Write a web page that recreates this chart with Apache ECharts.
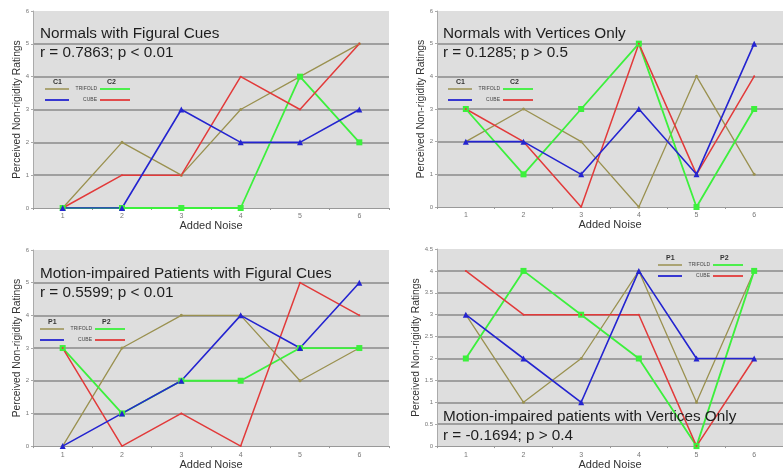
<!DOCTYPE html>
<html><head><meta charset="utf-8">
<script src="https://cdn.jsdelivr.net/npm/echarts@6/dist/echarts.min.js"></script>
<style>html,body{margin:0;padding:0;background:#fff}#c{width:783px;height:471px}</style>
</head><body><div id="c"></div>
<script>
const categories = ['1','2','3','4','5','6'];

// Panel 1: Normals with Figural Cues
const p1TrifoldC1 = [0, 2, 1, 3, 4, 5];
const p1CubeC1    = [0, 0, 3, 2, 2, 3];
const p1TrifoldC2 = [0, 0, 0, 0, 4, 2];
const p1CubeC2    = [0, 1, 1, 4, 3, 5];

// Panel 2: Normals with Vertices Only
const p2TrifoldC1 = [2, 3, 2, 0, 4, 1];
const p2CubeC1    = [2, 2, 1, 3, 1, 5];
const p2TrifoldC2 = [3, 1, 3, 5, 0, 3];
const p2CubeC2    = [3, 2, 0, 5, 1, 4];

// Panel 3: Motion-impaired Patients with Figural Cues
const p3TrifoldP1 = [0, 3, 4, 4, 2, 3];
const p3CubeP1    = [0, 1, 2, 4, 3, 5];
const p3TrifoldP2 = [3, 1, 2, 2, 3, 3];
const p3CubeP2    = [3, 0, 1, 0, 5, 4];

// Panel 4: Motion-impaired patients with Vertices Only
const p4TrifoldP1 = [3, 1, 2, 4, 1, 4];
const p4CubeP1    = [3, 2, 1, 4, 2, 2];
const p4TrifoldP2 = [2, 4, 3, 2, 0, 4];
const p4CubeP2    = [4, 3, 3, 3, 0, 2];

const titles = [
  ['Normals with Figural Cues', 'r = 0.7863; p < 0.01'],
  ['Normals with Vertices Only', 'r = 0.1285; p > 0.5'],
  ['Motion-impaired Patients with Figural Cues', 'r = 0.5599; p < 0.01'],
  ['Motion-impaired patients with Vertices Only', 'r = -0.1694; p > 0.4']
];
const yMax = [6, 6, 6, 4.5];
const yInterval = [1, 1, 1, 0.5];

const FONT = '"Liberation Sans", Arial, sans-serif';
const C_OLIVE = '#9a9150', C_BLUE = '#2424d0', C_GREEN = '#3cf03c', C_RED = '#e23a3a';

const grids = [
  {left: 33, top: 11, width: 356, height: 197},
  {left: 437, top: 11, width: 356, height: 196},
  {left: 33, top: 250, width: 356, height: 198},
  {left: 437, top: 249, width: 349, height: 198}
];
const nameGaps = [2, 2, 10, 10];

const xAxes = grids.map((g, i) => ({
  type: 'category', gridIndex: i, data: categories, boundaryGap: true,
  name: 'Added Noise', nameLocation: 'middle', nameGap: nameGaps[i],
  nameTextStyle: {fontFamily: FONT, fontSize: 11, color: '#333'},
  axisLine: {lineStyle: {color: '#999', width: 1}},
  axisTick: {show: true, length: 2, lineStyle: {color: '#999'}},
  axisLabel: {fontFamily: FONT, fontSize: 7, color: '#777', margin: 5}
}));
const yAxes = grids.map((g, i) => ({
  type: 'value', gridIndex: i, min: 0, max: yMax[i], interval: yInterval[i],
  name: 'Perceived Non-rigidity Ratings', nameLocation: 'middle', nameGap: 7,
  nameTextStyle: {fontFamily: FONT, fontSize: 10.3, color: '#333'},
  axisLine: {show: true, lineStyle: {color: '#aaa', width: 1}},
  axisTick: {show: true, length: 2, lineStyle: {color: '#aaa'}},
  axisLabel: {fontFamily: FONT, fontSize: 6, color: '#777', margin: 4},
  splitLine: {show: true, showMinLine: false, showMaxLine: false, lineStyle: {color: '#8a8a8a', width: 1.7}}
}));

function mk(data, idx, color, symbol, size, width) {
  return {type: 'line', xAxisIndex: idx, yAxisIndex: idx, data: data,
    symbol: symbol, symbolSize: size, showSymbol: true,
    lineStyle: {color: color, width: width}, itemStyle: {color: color},
    animation: false, z: 3};
}
const panelData = [
  [p1TrifoldC1, p1CubeC1, p1TrifoldC2, p1CubeC2],
  [p2TrifoldC1, p2CubeC1, p2TrifoldC2, p2CubeC2],
  [p3TrifoldP1, p3CubeP1, p3TrifoldP2, p3CubeP2],
  [p4TrifoldP1, p4CubeP1, p4TrifoldP2, p4CubeP2]
];
const series = [];
panelData.forEach((d, i) => {
  series.push(mk(d[0], i, C_OLIVE, 'circle', 3, 1.3));
  series.push(mk(d[2], i, C_GREEN, 'rect', 6, 1.8));
  series.push(mk(d[3], i, C_RED, 'circle', 2, 1.5));
  series.push(mk(d[1], i, C_BLUE, 'triangle', 6, 1.6));
});

// annotations
const graphic = [];
const titlePos = [[40, 26], [443, 26], [40, 266], [443, 409]];
titles.forEach((t, i) => {
  graphic.push({type: 'text', left: titlePos[i][0], top: titlePos[i][1], z: 10,
    style: {text: t[0], font: '15.3px ' + FONT, fill: '#1e1e1e'}});
  graphic.push({type: 'text', left: titlePos[i][0], top: titlePos[i][1] + 19.5, z: 10,
    style: {text: t[1], font: '15.3px ' + FONT, fill: '#1e1e1e'}});
});
// legends: [x0, yHeader, labels]
const legends = [
  [45, 79, 'C1', 'C2'], [448, 79, 'C1', 'C2'], [40, 319, 'P1', 'P2'], [658, 255, 'P1', 'P2']
];
legends.forEach(l => {
  const x = l[0], y = l[1];
  const row1 = y + 10, row2 = y + 21;
  graphic.push({type: 'text', x: x + 8, y: y, z: 10, style: {text: l[2], font: 'bold 7px ' + FONT, fill: '#333'}});
  graphic.push({type: 'text', x: x + 62, y: y, z: 10, style: {text: l[3], font: 'bold 7px ' + FONT, fill: '#333'}});
  graphic.push({type: 'line', z: 10, shape: {x1: x, y1: row1, x2: x + 24, y2: row1}, style: {stroke: C_OLIVE, lineWidth: 1.5}});
  graphic.push({type: 'line', z: 10, shape: {x1: x, y1: row2, x2: x + 24, y2: row2}, style: {stroke: C_BLUE, lineWidth: 1.8}});
  graphic.push({type: 'text', x: x + 52, y: row1, z: 10, style: {text: 'TRIFOLD', font: '5px ' + FONT, fill: '#444', textAlign: 'right', textVerticalAlign: 'middle'}});
  graphic.push({type: 'text', x: x + 52, y: row2, z: 10, style: {text: 'CUBE', font: '5px ' + FONT, fill: '#444', textAlign: 'right', textVerticalAlign: 'middle'}});
  graphic.push({type: 'line', z: 10, shape: {x1: x + 55, y1: row1, x2: x + 85, y2: row1}, style: {stroke: C_GREEN, lineWidth: 1.8}});
  graphic.push({type: 'line', z: 10, shape: {x1: x + 55, y1: row2, x2: x + 85, y2: row2}, style: {stroke: C_RED, lineWidth: 1.8}});
});

const chart = echarts.init(document.getElementById('c'), null, {renderer: 'canvas'});
chart.setOption({
  backgroundColor: '#ffffff',
  animation: false,
  grid: grids.map(g => Object.assign({show: true, backgroundColor: '#dedede', borderWidth: 0}, g)),
  xAxis: xAxes,
  yAxis: yAxes,
  series: series,
  graphic: graphic
});
</script></body></html>
